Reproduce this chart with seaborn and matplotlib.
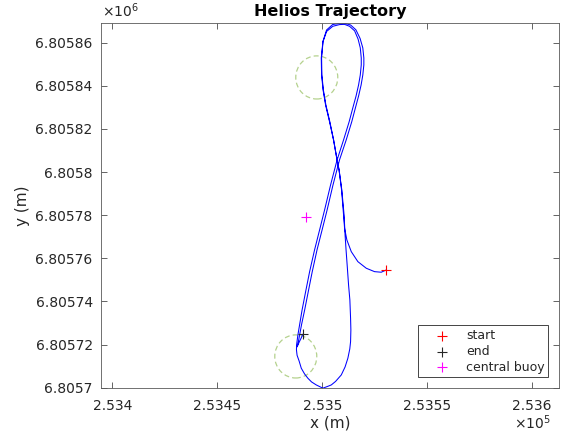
import matplotlib
matplotlib.use("Agg")
import matplotlib.pyplot as plt
from matplotlib.patches import Circle
from matplotlib.ticker import FixedLocator, FuncFormatter
import pandas as pd
import seaborn as sns

# Local survey origin (UTM easting / northing, metres)
ORIGIN_E = 253500.0
ORIGIN_N = 6805700.0

# Helios track, metres east / north of the origin
track_east = [
    30.48, 28.10, 24.90, 20.95, 16.95, 13.81, 11.71, 10.62, 10.14, 9.19,
    8.00, 7.05, 5.38, 3.48, 1.57, 0.38, -0.33, -0.48, 0.29, 2.05,
    5.00, 8.20, 10.60, 13.00, 15.40, 17.05, 18.10, 18.57, 18.57, 18.10,
    17.29, 16.10, 14.67, 12.76, 10.14, 7.05, 3.95, 1.10, -1.29, -3.67,
    -6.05, -7.95, -9.62, -10.81, -11.62, -12.24,
    -12.30, -12.00, -11.05, -10.00, -8.43, -6.86, -5.10, -2.86, 0.29, 2.52,
    4.29, 6.33, 9.05, 10.86, 12.19, 13.10, 13.48, 13.62, 13.48, 13.14,
    12.52, 11.95, 11.33, 10.86, 10.38,
    9.30, 8.00, 7.05, 5.38, 3.62, 1.71, 0.52, -0.19, -0.33, 0.38,
    2.05, 4.90, 8.20, 10.80, 13.50, 16.00, 18.00, 19.30, 19.80, 19.80,
    19.30, 18.50, 17.30, 15.90, 14.00, 11.40, 8.20, 5.10, 2.30, -0.10,
    -2.50, -4.80, -6.70, -8.40, -9.90, -10.80, -11.50, -12.00, -11.05, -10.10,
    -9.24,
]
track_north = [
    54.59, 53.53, 53.80, 55.38, 58.44, 63.08, 68.51, 73.93, 80.10, 91.70,
    100.97, 105.61, 114.89, 123.24, 131.12, 138.08, 145.04, 152.92, 160.34, 165.20,
    167.60, 168.40, 168.50, 167.60, 165.50, 161.70, 157.60, 152.90, 149.70, 145.00,
    140.40, 135.30, 130.20, 123.20, 114.90, 105.60, 94.00, 82.40, 73.10, 63.90,
    53.70, 44.40, 36.00, 29.10, 24.40, 19.80,
    17.50, 15.00, 12.40, 9.00, 6.35, 4.36, 2.64, 1.25, -0.25, 0.56,
    1.25, 2.88, 5.89, 9.60, 13.64, 17.95, 21.34, 26.76, 32.19, 40.68,
    47.63, 55.52, 63.87, 70.83, 80.10,
    91.70, 100.97, 105.61, 114.89, 123.24, 131.12, 138.08, 145.04, 152.92, 160.80,
    165.90, 168.40, 169.00, 169.00, 168.20, 166.00, 162.00, 157.60, 152.90, 149.70,
    145.00, 140.40, 135.30, 130.20, 123.20, 114.90, 105.60, 94.00, 82.40, 73.10,
    63.90, 53.70, 44.40, 36.00, 29.10, 24.40, 20.70, 18.90, 21.00, 22.90,
    24.80,
]

# Point markers
point_labels = ["start", "end", "central buoy"]
point_east = [30.48, -9.24, -7.62]
point_north = [54.59, 24.80, 78.94]
point_colors = ["#ff0000", "#262626", "#ff00ff"]

# Turning buoys with their 10 m zones
buoy_east = [-2.62, -12.62]
buoy_north = [143.88, 14.47]
buoy_radius = 10.0

# Axis ranges and ticks
x_limits = (ORIGIN_E - 105.4, ORIGIN_E + 112.9)
y_limits = (ORIGIN_N - 0.3, ORIGIN_N + 169.0)
x_ticks = [253400, 253450, 253500, 253550, 253600]
y_ticks = [6805700 + 20 * k for k in range(9)]

sns.set_style("ticks")
plt.rcParams["font.family"] = ["DejaVu Sans"]
text_color = "#262626"

track = pd.DataFrame({
    "x": [ORIGIN_E + e for e in track_east],
    "y": [ORIGIN_N + n for n in track_north],
})

fig = plt.figure(figsize=(5.68, 4.32), dpi=100)
ax = fig.add_axes([0.1778, 0.1012, 0.8069, 0.8449])

for be, bn in zip(buoy_east, buoy_north):
    ax.add_patch(Circle((ORIGIN_E + be, ORIGIN_N + bn), buoy_radius,
                        fill=False, edgecolor="#77ac30", alpha=0.55,
                        linestyle=(0, (4, 2.5)), linewidth=0.9))

sns.lineplot(data=track, x="x", y="y", sort=False, estimator=None,
             color="#0000ff", linewidth=0.75, ax=ax)

for lab, e, n, c in zip(point_labels, point_east, point_north, point_colors):
    sns.scatterplot(x=[ORIGIN_E + e], y=[ORIGIN_N + n], marker="+", s=55,
                    color=c, linewidth=0.8, label=lab, ax=ax, zorder=5)

ax.set_xlim(*x_limits)
ax.set_ylim(*y_limits)
ax.xaxis.set_major_locator(FixedLocator(x_ticks))
ax.yaxis.set_major_locator(FixedLocator(y_ticks))
ax.xaxis.set_major_formatter(FuncFormatter(lambda v, p: f"{v / 1e5:g}"))
ax.yaxis.set_major_formatter(FuncFormatter(lambda v, p: f"{v / 1e6:g}"))

ax.tick_params(direction="in", length=4, width=0.5, colors=text_color,
               labelsize=10, top=True, right=True)
ax.tick_params(axis="x", pad=8)
ax.tick_params(axis="y", pad=6)
for sp in ax.spines.values():
    sp.set_visible(True)
    sp.set_color("#5a5a5a")
    sp.set_linewidth(0.6)

ax.set_xlabel("x (m)", fontsize=11, color=text_color, labelpad=1.5)
ax.set_ylabel("y (m)", fontsize=11, color=text_color, labelpad=4)
ax.set_title("Helios Trajectory", fontsize=11.5, fontweight="bold",
             color="black", pad=5)

ax.text(0.002, 1.016, r"$\times10^{6}$", transform=ax.transAxes,
        ha="left", va="baseline", fontsize=10, color=text_color)
ax.text(0.982, -0.069, r"$\times10^{5}$", transform=ax.transAxes,
        ha="right", va="top", fontsize=10, color=text_color)

leg = ax.legend(loc="lower right", frameon=True, fancybox=False,
                framealpha=1, edgecolor=text_color, fontsize=9,
                borderaxespad=0.88, borderpad=0.3, handlelength=3.24,
                handletextpad=0.3, labelspacing=0.22)
leg.get_frame().set_linewidth(0.6)
for t in leg.get_texts():
    t.set_color(text_color)

fig.savefig("out.png", dpi=100, facecolor="white")
